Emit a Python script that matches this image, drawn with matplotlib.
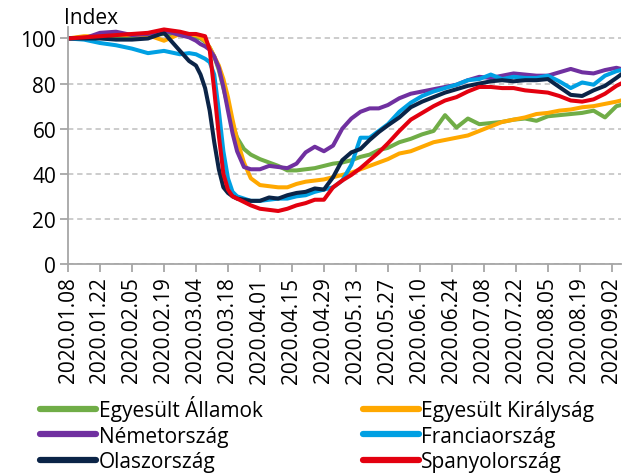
import numpy as np
import pandas as pd
import matplotlib
matplotlib.use('Agg')
import matplotlib.pyplot as plt
import matplotlib.dates as mdates

plt.rcParams['font.family'] = ['Open Sans', 'DejaVu Sans']

# --- adatok (napok 2020.01.08-tol) ---
start = pd.Timestamp('2020-01-08')
days = [0, 7, 14, 21, 28, 35, 42, 49, 53, 56, 58, 60, 62, 64, 66, 68, 70, 72, 74,
        77, 80, 84, 88, 92, 96, 100, 104, 108, 112, 116, 120, 124, 128, 132, 136, 140,
        145, 150, 155, 160, 165, 170, 175, 180, 185, 190, 195, 200, 205, 210, 215,
        220, 225, 230, 235, 240, 242]

usa = [100, 100.5, 101, 101, 101, 101.5, 102, 101.5, 101, 100.5, 100, 98.5, 96, 92, 86, 78, 70, 62, 56,
       51, 48.5, 46.5, 45, 43.5, 41.5, 41.5, 42, 42.5, 43.5, 44.5, 45, 46, 47.5, 48.5, 50.5, 51.5,
       54, 55.5, 57.5, 59, 66, 60.5, 64.5, 62, 62.5, 63, 64, 64.5, 63.5, 65.5, 66,
       66.5, 67, 68, 65, 70, 70.5]
uk = [100, 101, 101, 101.5, 101.5, 101.5, 99, 102, 101.5, 101.5, 100.5, 99, 96, 92, 88, 82, 74, 64, 55,
      45, 38, 35, 34.5, 34, 34, 35.5, 36.5, 37, 37.5, 38.5, 39.5, 40.5, 42, 43.5, 45, 46.5,
      49, 50, 52, 54, 55, 56, 57, 59, 61, 63, 64, 65, 66.5, 67, 68,
      68.5, 69.5, 70, 71, 72, 72.5]
ger = [100, 100, 102.5, 103, 101.5, 102, 103.5, 101.5, 100.5, 99, 97.5, 96.5, 95, 92, 87, 78.5, 68, 58, 50,
       43, 42, 42, 43.5, 43, 42.5, 44.5, 49.5, 52, 50, 52.5, 60, 64.5, 67.5, 69, 69, 70.5,
       73.5, 75.5, 76.5, 77.5, 78.5, 79.5, 81.5, 83, 82.5, 83.5, 84.5, 84, 83.5, 83.5, 85,
       86.5, 85, 84.5, 86, 87, 86.5]
fra = [100, 99.5, 98, 97, 95.5, 93.5, 94.5, 93, 93.5, 93, 92, 91, 89.5, 84, 68, 50, 38, 32, 30,
       29, 28, 28, 28.5, 29, 29, 30, 30.5, 32, 33, 34, 37, 44, 56, 56, 59, 62,
       67.5, 71.5, 74.5, 76.5, 78, 79.5, 81.5, 82, 84, 82, 83, 82.5, 82.5, 83.5, 81,
       78, 80.5, 79.5, 83.5, 85.5, 86]
ita = [100, 100, 100, 99.5, 99.5, 100, 102.5, 94.5, 90, 88, 84, 78, 68, 54, 42, 34, 31.5, 30, 29,
       28.5, 28, 28, 29.5, 29, 30.5, 31.5, 32, 33.5, 33, 38.5, 46, 49.5, 51, 55, 58.5, 61.5,
       65, 69.5, 72, 74, 76, 77.5, 79, 80, 81, 81.5, 81, 81.5, 81.5, 82, 78.5,
       75, 74.5, 77, 79, 82.5, 84]
esp = [100, 100.5, 101, 101.5, 102, 102.5, 104, 103, 102, 102, 101.5, 101, 95, 77, 57, 40, 33, 30, 29,
       27.5, 26, 24.5, 24, 23.5, 24.5, 26, 27, 28.5, 28.5, 34, 37, 39.5, 42.5, 46, 49.5, 53.5,
       59, 64, 67, 70, 72.5, 74, 76.5, 78.5, 78.5, 78, 78, 77, 76.5, 76, 74.5,
       72.5, 72, 73, 75.5, 79, 80]

labels = ['Egyesült Államok', 'Egyesült Királyság', 'Németország',
          'Franciaország', 'Olaszország', 'Spanyolország']
colors = ['#70AD47', '#FFA800', '#7030A0', '#00A0E3', '#0B2447', '#E3000F']
series = [usa, uk, ger, fra, ita, esp]

dates = start + pd.to_timedelta(days, unit='D')

fig = plt.figure(figsize=(6.24, 4.77), dpi=100)
ax = fig.add_axes([68 / 624, 1 - 265 / 477, (621 - 68) / 624, (265 - 28.2) / 477])

lines = {}
for lab, col, vals in zip(labels, colors, series):
    ln, = ax.plot(dates, vals, color=col, lw=2.9, label=lab, solid_joinstyle='round')
    lines[lab] = ln

ax.set_ylim(0, 105)
ax.set_yticks(range(0, 101, 20))
ax.set_xlim(start, start + pd.Timedelta(days=242))
ticks = pd.date_range(start, periods=18, freq='14D')
ax.set_xticks(ticks)
ax.xaxis.set_major_formatter(mdates.DateFormatter('%Y.%m.%d'))
plt.setp(ax.get_xticklabels(), rotation=90, ha='center', va='top')

ax.grid(axis='y', color='#BFBFBF', linestyle=(0, (3.5, 2.5)), lw=1.1)
ax.set_axisbelow(True)
for s in ['top', 'right']:
    ax.spines[s].set_visible(False)
for s in ['left', 'bottom']:
    ax.spines[s].set_color('#A6A6A6')
    ax.spines[s].set_linewidth(1.3)
ax.tick_params(axis='both', colors='#A6A6A6', length=5.5, width=1.3, labelsize=15,
               labelcolor='black')
ax.tick_params(axis='x', pad=3.5)
ax.tick_params(axis='y', pad=3)

fig.text(64 / 624, 1 - 18 / 477, 'Index', fontsize=15, ha='left', va='center')

order = ['Egyesült Államok', 'Németország', 'Olaszország',
         'Egyesült Királyság', 'Franciaország', 'Spanyolország']
leg = fig.legend([lines[k] for k in order], order, ncol=2, loc='upper left',
                 bbox_to_anchor=(40 / 624, 1 - 396 / 477), frameon=False, fontsize=15,
                 handlelength=2.7, handletextpad=0.12, columnspacing=4.8,
                 labelspacing=0.22, borderpad=0, borderaxespad=0)
for h in leg.get_lines():
    h.set_linewidth(4.5)
    h.set_solid_capstyle('round')

fig.savefig('out.png', dpi=100)
